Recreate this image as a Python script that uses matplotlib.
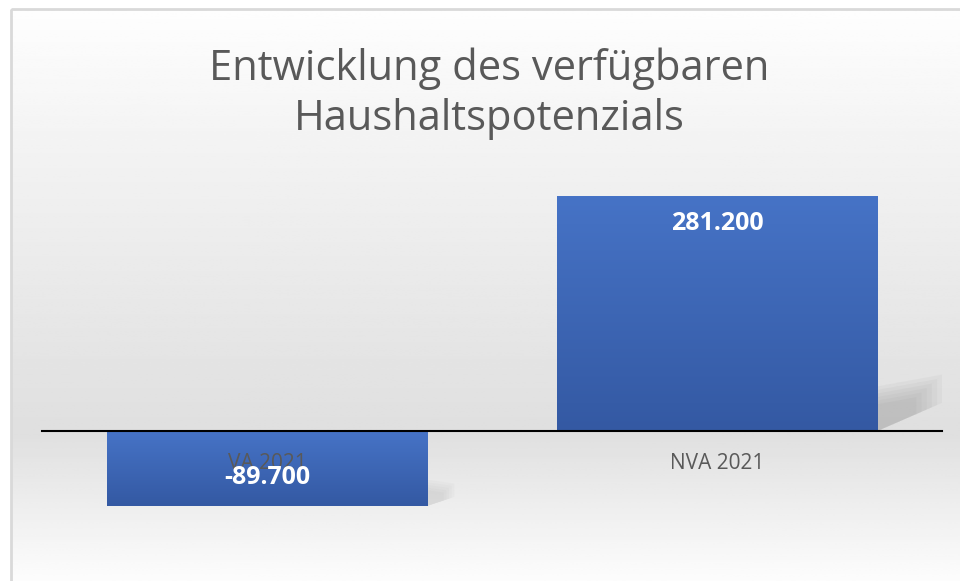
import numpy as np
import matplotlib
matplotlib.use('Agg')
import matplotlib.pyplot as plt
from matplotlib.patches import Polygon, Rectangle
from matplotlib.colors import LinearSegmentedColormap

# data
categories = ['VA 2021', 'NVA 2021']
values = [-89.7, 281.2]
value_labels = ['-89.700', '281.200']
title_lines = ['Entwicklung des verfügbaren', 'Haushaltspotenzials']

plt.rcParams['font.family'] = ['Open Sans', 'DejaVu Sans']
TEXT = '#595959'

fig = plt.figure(figsize=(9.6, 5.81), dpi=100)

# background with vertical gradient and light frame
bg = fig.add_axes([0, 0, 1, 1], zorder=-10)
bg.set_axis_off()
bg.set_xlim(0, 960)
bg.set_ylim(581, 0)
stops = [(0.0, 0.995), (0.25, 0.95), (0.74, 0.875), (1.0, 0.99)]
col = np.interp(np.linspace(0, 1, 200), [s[0] for s in stops], [s[1] for s in stops])
grad = np.repeat(col[:, None], 2, axis=1)
bg.imshow(grad, cmap='gray', vmin=0, vmax=1, extent=(11, 960, 581, 9), aspect='auto')
bg.add_patch(Rectangle((11, 9), 960, 600, fill=False, edgecolor='#d9d9d9', linewidth=2))

ax = fig.add_axes([0.04375, 0.1, 0.9375, 0.5897])
ax.patch.set_alpha(0)
width = 0.713
x = np.arange(len(categories))
bars = ax.bar(x, values, width=width, color='none', zorder=2)

# soft shadows to the right of the bars
for xi, v in zip(x, values):
    xr = xi + width / 2
    if v > 0:
        for k in range(6):
            s = 1 - k * 0.08
            pts = [(xr, 0), (xr + 0.144 * s, 0.12 * v * s), (xr + 0.144 * s, 0.24 * v * s), (xr, 0.19 * v * s)]
            ax.add_patch(Polygon(pts, closed=True, facecolor='#8a8a8a', edgecolor='none', alpha=0.07, zorder=1))
    else:
        for k in range(5):
            s = 1 - k * 0.1
            pts = [(xr, v), (xr + 0.06 * s, v * (1 - 0.12 * s)), (xr + 0.06 * s, v * (1 - 0.3 * s)), (xr, v * (1 - 0.35 * s))]
            ax.add_patch(Polygon(pts, closed=True, facecolor='#9a9a9a', edgecolor='none', alpha=0.05, zorder=1))

# blue gradient fill clipped to each bar
blue = LinearSegmentedColormap.from_list('blue', ['#3459a3', '#4673c6'])
g = np.linspace(0, 1, 100)[:, None]
for b in bars:
    x0, y0 = b.get_x(), b.get_y()
    w, h = b.get_width(), b.get_height()
    im = ax.imshow(g, cmap=blue, extent=(x0, x0 + w, min(y0, y0 + h), max(y0, y0 + h)),
                   origin='lower', aspect='auto', zorder=2)
    im.set_clip_path(b)

for b, v, lab in zip(bars, values, value_labels):
    cx = b.get_x() + b.get_width() / 2
    off = -28 if v > 0 else 28
    ax.annotate(lab, (cx, v), xytext=(0, off * 0.72), textcoords='offset points',
                ha='center', va='center', color='white', fontsize=18, fontweight='bold', zorder=5)

ax.set_xlim(-0.5, 1.5)
ax.set_ylim(-110, 300)
ax.set_yticks([])
for s in ['top', 'right', 'left']:
    ax.spines[s].set_visible(False)
ax.spines['bottom'].set_position(('data', 0))
ax.spines['bottom'].set_linewidth(1.5)
ax.spines['bottom'].set_color('black')
ax.set_xticks(x)
ax.set_xticklabels(categories, fontsize=15, color=TEXT)
ax.tick_params(axis='x', length=0, pad=16)
ax.xaxis.set_zorder(3)

fig.text(0.51, 1 - 80 / 581, title_lines[0], ha='center', va='baseline', fontsize=30, color=TEXT)
fig.text(0.51, 1 - 130 / 581, title_lines[1], ha='center', va='baseline', fontsize=30, color=TEXT)

fig.savefig('out.png', dpi=100)
